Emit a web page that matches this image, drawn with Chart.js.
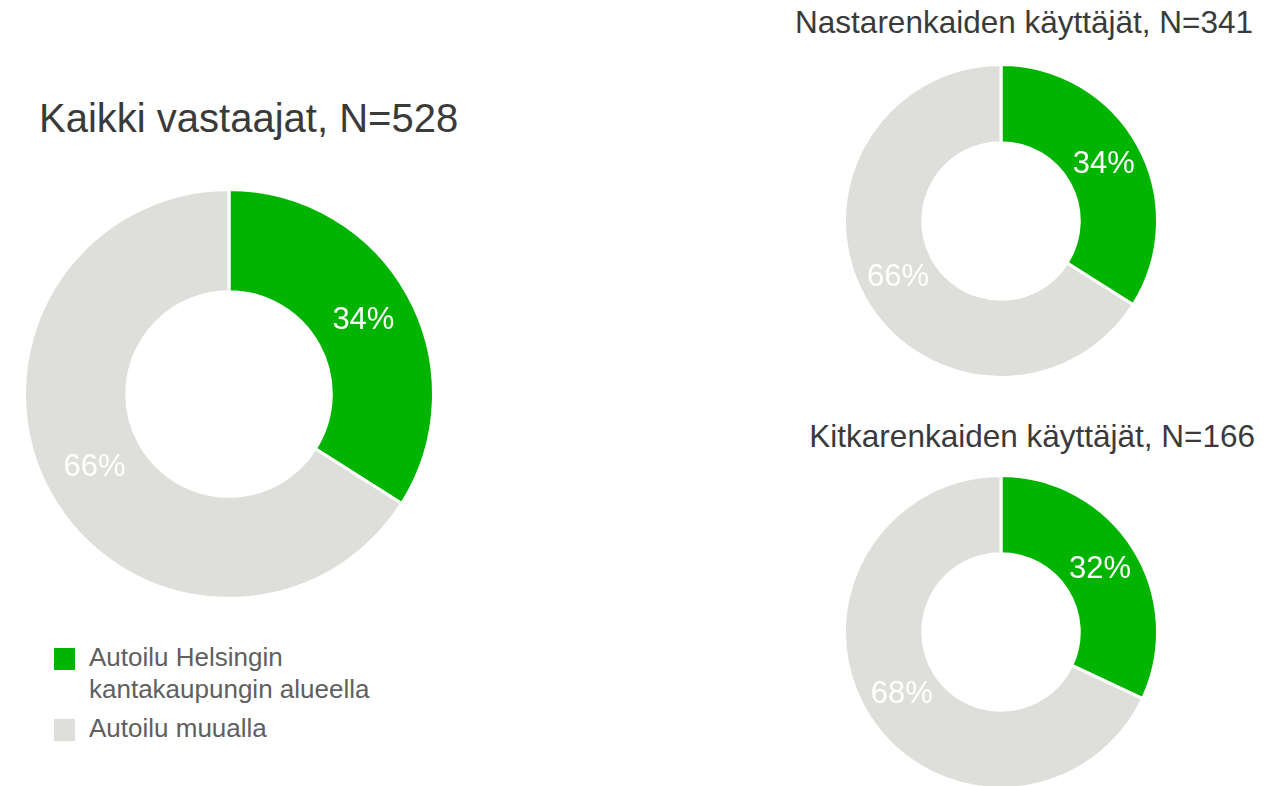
<!DOCTYPE html>
<html>
<head>
<meta charset="utf-8">
<script src="https://cdn.jsdelivr.net/npm/chart.js@4/dist/chart.umd.min.js"></script>
<style>
  html, body { margin: 0; padding: 0; background: #fff; overflow: hidden; }
  body { width: 1265px; height: 786px; position: relative; font-family: "Liberation Sans", Arial, sans-serif; }
  .title { position: absolute; color: #3a3a3a; line-height: 1; white-space: nowrap; }
  .chartBox { position: absolute; }
  #legend { position: absolute; left: 54px; top: 641px; width: 320px; color: #606060; font-size: 26px; line-height: 32px; }
  #legend .item { position: relative; padding-left: 35px; width: 290px; margin-bottom: 7px; }
  #legend .box { position: absolute; left: 0; top: 7px; width: 21px; height: 22px; }
</style>
</head>
<body>
<div class="title" id="title0" style="left:39px; top:98px; font-size:40px;"></div>
<div class="title" id="title1" style="right:12px; top:7px; font-size:31.5px;"></div>
<div class="title" id="title2" style="right:10px; top:421px; font-size:31.5px;"></div>

<div class="chartBox" style="left:22.5px; top:188px; width:412px; height:412px;"><canvas id="chart0"></canvas></div>
<div class="chartBox" style="left:842.5px; top:63px; width:316px; height:316px;"><canvas id="chart1"></canvas></div>
<div class="chartBox" style="left:842.5px; top:474px; width:316px; height:316px;"><canvas id="chart2"></canvas></div>

<div id="legend"></div>

<script>
// data
var groupTitles = ['Kaikki vastaajat, N=528', 'Nastarenkaiden käyttäjät, N=341', 'Kitkarenkaiden käyttäjät, N=166'];
var categories = ['Autoilu Helsingin kantakaupungin alueella', 'Autoilu muualla'];
var allValues = [34, 66];
var studdedValues = [34, 66];
var frictionValues = [32, 68];

var colors = ['#00b400', '#dededa'];

// draws the percent text in the middle of each slice
var sliceLabels = {
	id: 'sliceLabels',
	afterDatasetsDraw: function(chart) {
		var ctx = chart.ctx;
		var meta = chart.getDatasetMeta(0);
		var values = chart.data.datasets[0].data;
		ctx.save();
		ctx.fillStyle = '#ffffff';
		ctx.font = '31px "Liberation Sans", Arial, sans-serif';
		ctx.textAlign = 'center';
		ctx.textBaseline = 'middle';
		for (var i = 0; i < meta.data.length; i++) {
			var p = meta.data[i].getCenterPoint();
			ctx.fillText(values[i] + '%', p.x, p.y);
		}
		ctx.restore();
	}
};

function createDoughnut(canvasId, values) {
	return new Chart(document.getElementById(canvasId), {
		type: 'doughnut',
		data: {
			labels: categories,
			datasets: [{
				data: values,
				backgroundColor: colors,
				borderColor: '#ffffff',
				borderWidth: 3,
				hoverOffset: 0
			}]
		},
		options: {
			responsive: true,
			maintainAspectRatio: false,
			animation: false,
			cutout: '50%',
			layout: { padding: 0 },
			plugins: {
				legend: { display: false },
				tooltip: { enabled: false }
			}
		},
		plugins: [sliceLabels]
	});
}

createDoughnut('chart0', allValues);
createDoughnut('chart1', studdedValues);
createDoughnut('chart2', frictionValues);

for (var t = 0; t < groupTitles.length; t++) {
	document.getElementById('title' + t).textContent = groupTitles[t];
}

var legend = document.getElementById('legend');
for (var c = 0; c < categories.length; c++) {
	var item = document.createElement('div');
	item.className = 'item';
	item.innerHTML = '<span class="box" style="background:' + colors[c] + '"></span>' + categories[c];
	legend.appendChild(item);
}
</script>
</body>
</html>
